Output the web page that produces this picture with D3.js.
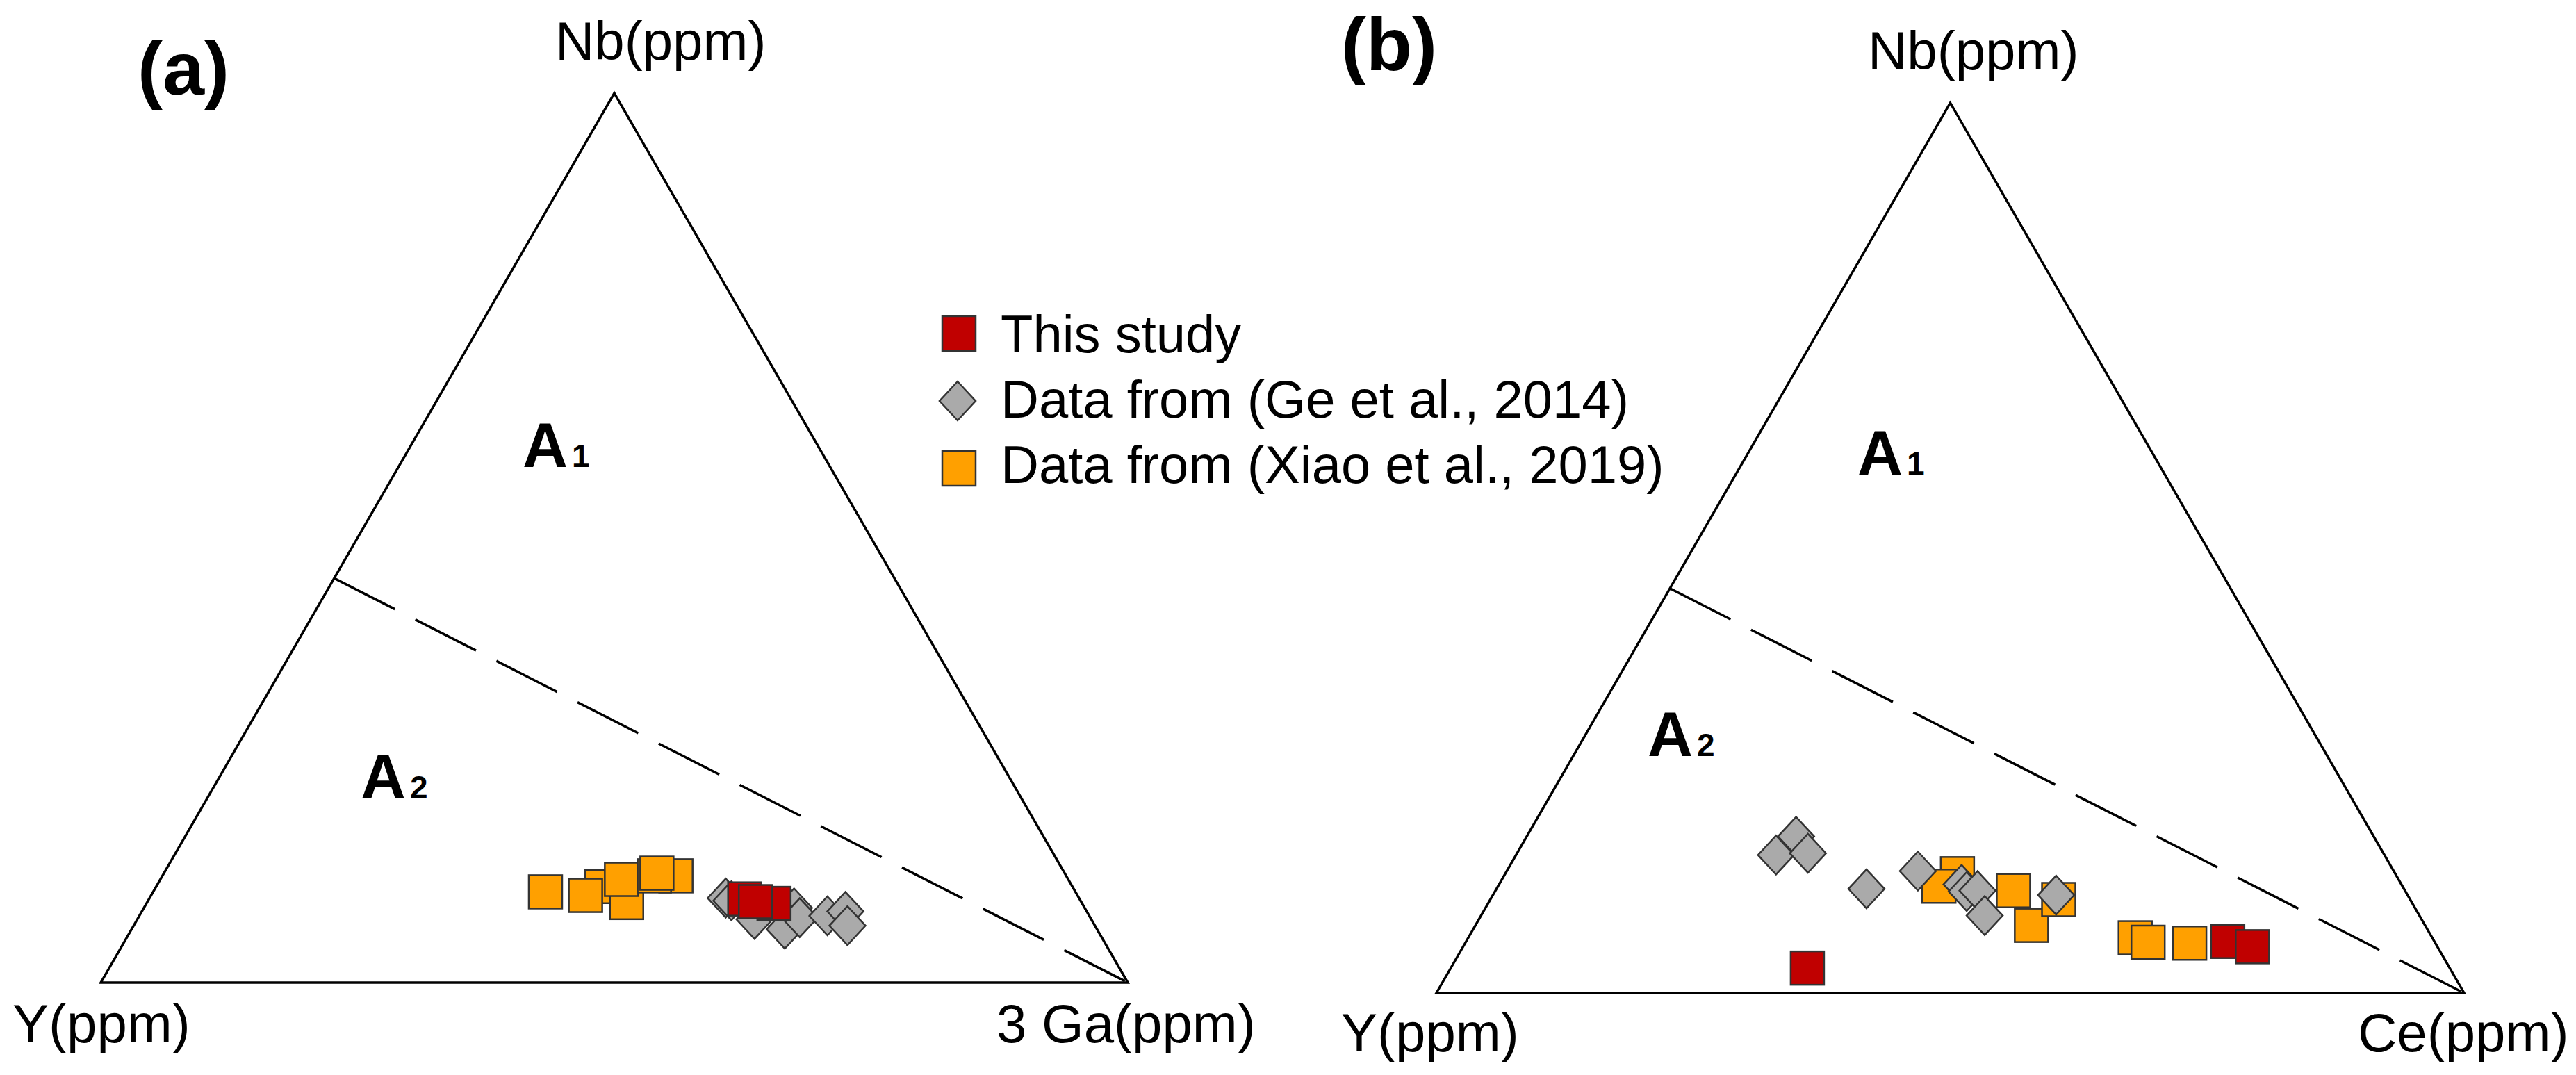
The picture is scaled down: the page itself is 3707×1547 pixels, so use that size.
<!DOCTYPE html>
<html>
<head>
<meta charset="utf-8">
<script src="https://cdn.jsdelivr.net/npm/d3@7"></script>
<style>
  body { margin: 0; background: #fff; }
  text { font-family: "Liberation Sans", Arial, sans-serif; }
</style>
</head>
<body>
<svg id="chart" width="3707" height="1547"></svg>
<script>
// compositions, in percent: [Y, Nb, 3Ga] for (a), [Y, Nb, Ce] for (b)
const thisStudyA = [[32.6, 9.4, 58.0], [30.0, 8.9, 61.1], [31.7, 9.1, 59.2]];
const geA = [[34.4, 9.5, 56.1], [34.0, 9.2, 56.8], [32.8, 7.1, 60.1], [30.4, 6.0, 63.6], [28.3, 8.4, 63.3],
             [28.3, 7.3, 64.4], [25.5, 7.5, 67.0], [23.5, 8.0, 68.5], [24.1, 6.4, 69.5]];
const xiaoA = [[51.6, 10.2, 38.2], [45.8, 10.8, 43.4], [44.3, 9.0, 46.7], [47.9, 9.8, 42.3],
               [43.5, 11.6, 44.9], [38.0, 12.0, 50.0], [40.1, 12.0, 47.9], [39.7, 12.3, 48.0]];

const thisStudyB = [[62.5, 2.8, 34.7], [20.1, 5.8, 74.1], [18.0, 5.2, 76.8]];
const geB = [[56.2, 17.6, 26.2], [59.2, 15.5, 25.3], [56.0, 15.7, 28.3], [52.3, 11.7, 36.0], [46.3, 13.7, 40.0],
             [42.8, 12.2, 45.0], [42.7, 11.4, 45.9], [41.6, 11.5, 46.9], [42.3, 8.7, 49.0], [34.2, 11.0, 54.8]];
const xiaoB = [[42.6, 13.4, 44.0], [45.1, 12.0, 42.9], [38.1, 11.5, 50.4], [38.3, 7.6, 54.1],
               [34.2, 10.5, 55.3], [28.9, 6.2, 64.9], [27.9, 5.7, 66.4], [23.9, 5.6, 70.5]];

// A1/A2 boundary: Y/Nb = 1.2 on the Y-Nb edge, running to the third apex
const boundaryYNb = 1.2;

const legendLabels = ["This study", "Data from (Ge et al., 2014)", "Data from (Xiao et al., 2019)"];
const legendShapes = ["square", "diamond", "square"];
const colors = { red: "#c00000", gray: "#aaaaaa", orange: "#ffa000" };
const legendColors = [colors.red, colors.gray, colors.orange];

const svg = d3.select("#chart");

function ternary(panel) {
    // horizontal position: third + Nb/2 ; vertical: Nb
    const x = d3.scaleLinear().domain([0, 1]).range([panel.left, panel.right]);
    const y = d3.scaleLinear().domain([0, 1]).range([panel.base, panel.top]);
    return function (d) {
        const s = d[0] + d[1] + d[2];
        const nb = d[1] / s, c = d[2] / s;
        return [x(c + nb / 2), y(nb)];
    };
}

function drawSquares(g, data, proj, fill) {
    g.selectAll(null).data(data).enter().append("rect")
        .attr("x", d => proj(d)[0] - 24)
        .attr("y", d => proj(d)[1] - 24)
        .attr("width", 48).attr("height", 48)
        .attr("fill", fill)
        .attr("stroke", "#333").attr("stroke-width", 2.5);
}

function diamondPath(cx, cy) {
    return `M${cx},${cy - 28}L${cx + 26},${cy}L${cx},${cy + 28}L${cx - 26},${cy}Z`;
}

function drawDiamonds(g, data, proj, fill) {
    g.selectAll(null).data(data).enter().append("path")
        .attr("d", d => { const p = proj(d); return diamondPath(p[0], p[1]); })
        .attr("fill", fill)
        .attr("stroke", "#333").attr("stroke-width", 2.5);
}

function drawPanel(panel) {
    const proj = ternary(panel);
    const g = svg.append("g");
    const verts = [[100, 0, 0], [0, 100, 0], [0, 0, 100]].map(proj);

    g.append("path")
        .attr("d", d3.line()(verts) + "Z")
        .attr("fill", "none").attr("stroke", "#000").attr("stroke-width", 3.5)
        .attr("stroke-linejoin", "miter");

    const bStart = proj([boundaryYNb, 1, 0]);
    g.append("line")
        .attr("x1", bStart[0]).attr("y1", bStart[1])
        .attr("x2", verts[2][0]).attr("y2", verts[2][1])
        .attr("stroke", "#000").attr("stroke-width", 3.5)
        .attr("stroke-dasharray", "98,33");

    drawSquares(g, panel.xiao, proj, colors.orange);
    drawDiamonds(g, panel.ge, proj, colors.gray);
    drawSquares(g, panel.study, proj, colors.red);

    // labels
    g.append("text").attr("x", panel.tagX).attr("y", panel.tagY)
        .attr("font-size", 108).attr("font-weight", "bold").text(panel.tag);
    g.append("text").attr("x", panel.nbX).attr("y", panel.nbY)
        .attr("font-size", 78).text("Nb(ppm)");
    g.append("text").attr("x", panel.yX).attr("y", panel.cornerY)
        .attr("font-size", 78).text("Y(ppm)");
    g.append("text").attr("x", panel.thirdX).attr("y", panel.cornerY)
        .attr("font-size", 78).text(panel.thirdLabel);

    panel.fields.forEach(f => {
        const t = g.append("text").attr("x", f.x).attr("y", f.y)
            .attr("font-size", 90).attr("font-weight", "bold");
        t.append("tspan").text("A");
        t.append("tspan").attr("font-size", 46).attr("dx", 6).text(f.sub);
    });
}

drawPanel({
    left: 145, right: 1623, base: 1414, top: 134,
    study: thisStudyA, ge: geA, xiao: xiaoA,
    tag: "(a)", tagX: 198, tagY: 136,
    nbX: 799, nbY: 86, yX: 18, thirdX: 1434, cornerY: 1500,
    thirdLabel: "3 Ga(ppm)",
    fields: [{ x: 752, y: 672, sub: "1" }, { x: 519, y: 1149, sub: "2" }]
});

drawPanel({
    left: 2067, right: 3546, base: 1429, top: 148,
    study: thisStudyB, ge: geB, xiao: xiaoB,
    tag: "(b)", tagX: 1930, tagY: 101,
    nbX: 2688, nbY: 100, yX: 1930, thirdX: 3393, cornerY: 1513,
    thirdLabel: "Ce(ppm)",
    fields: [{ x: 2673, y: 683, sub: "1" }, { x: 2371, y: 1088, sub: "2" }]
});

// legend
const legend = svg.append("g").attr("transform", "translate(1380,480)");
const rows = legend.selectAll("g").data(legendLabels).enter().append("g")
    .attr("transform", (d, i) => `translate(0,${i * 97})`);
rows.each(function (d, i) {
    const r = d3.select(this);
    if (legendShapes[i] === "square") {
        r.append("rect").attr("x", -24).attr("y", -25).attr("width", 48).attr("height", 50)
            .attr("fill", legendColors[i]).attr("stroke", "#333").attr("stroke-width", 2.5);
    } else {
        r.append("path").attr("d", diamondPath(-2, 0))
            .attr("fill", legendColors[i]).attr("stroke", "#333").attr("stroke-width", 2.5);
    }
    r.append("text").attr("x", 60).attr("y", 27 - i * 3).attr("font-size", 76).text(d);
});
</script>
</body>
</html>
